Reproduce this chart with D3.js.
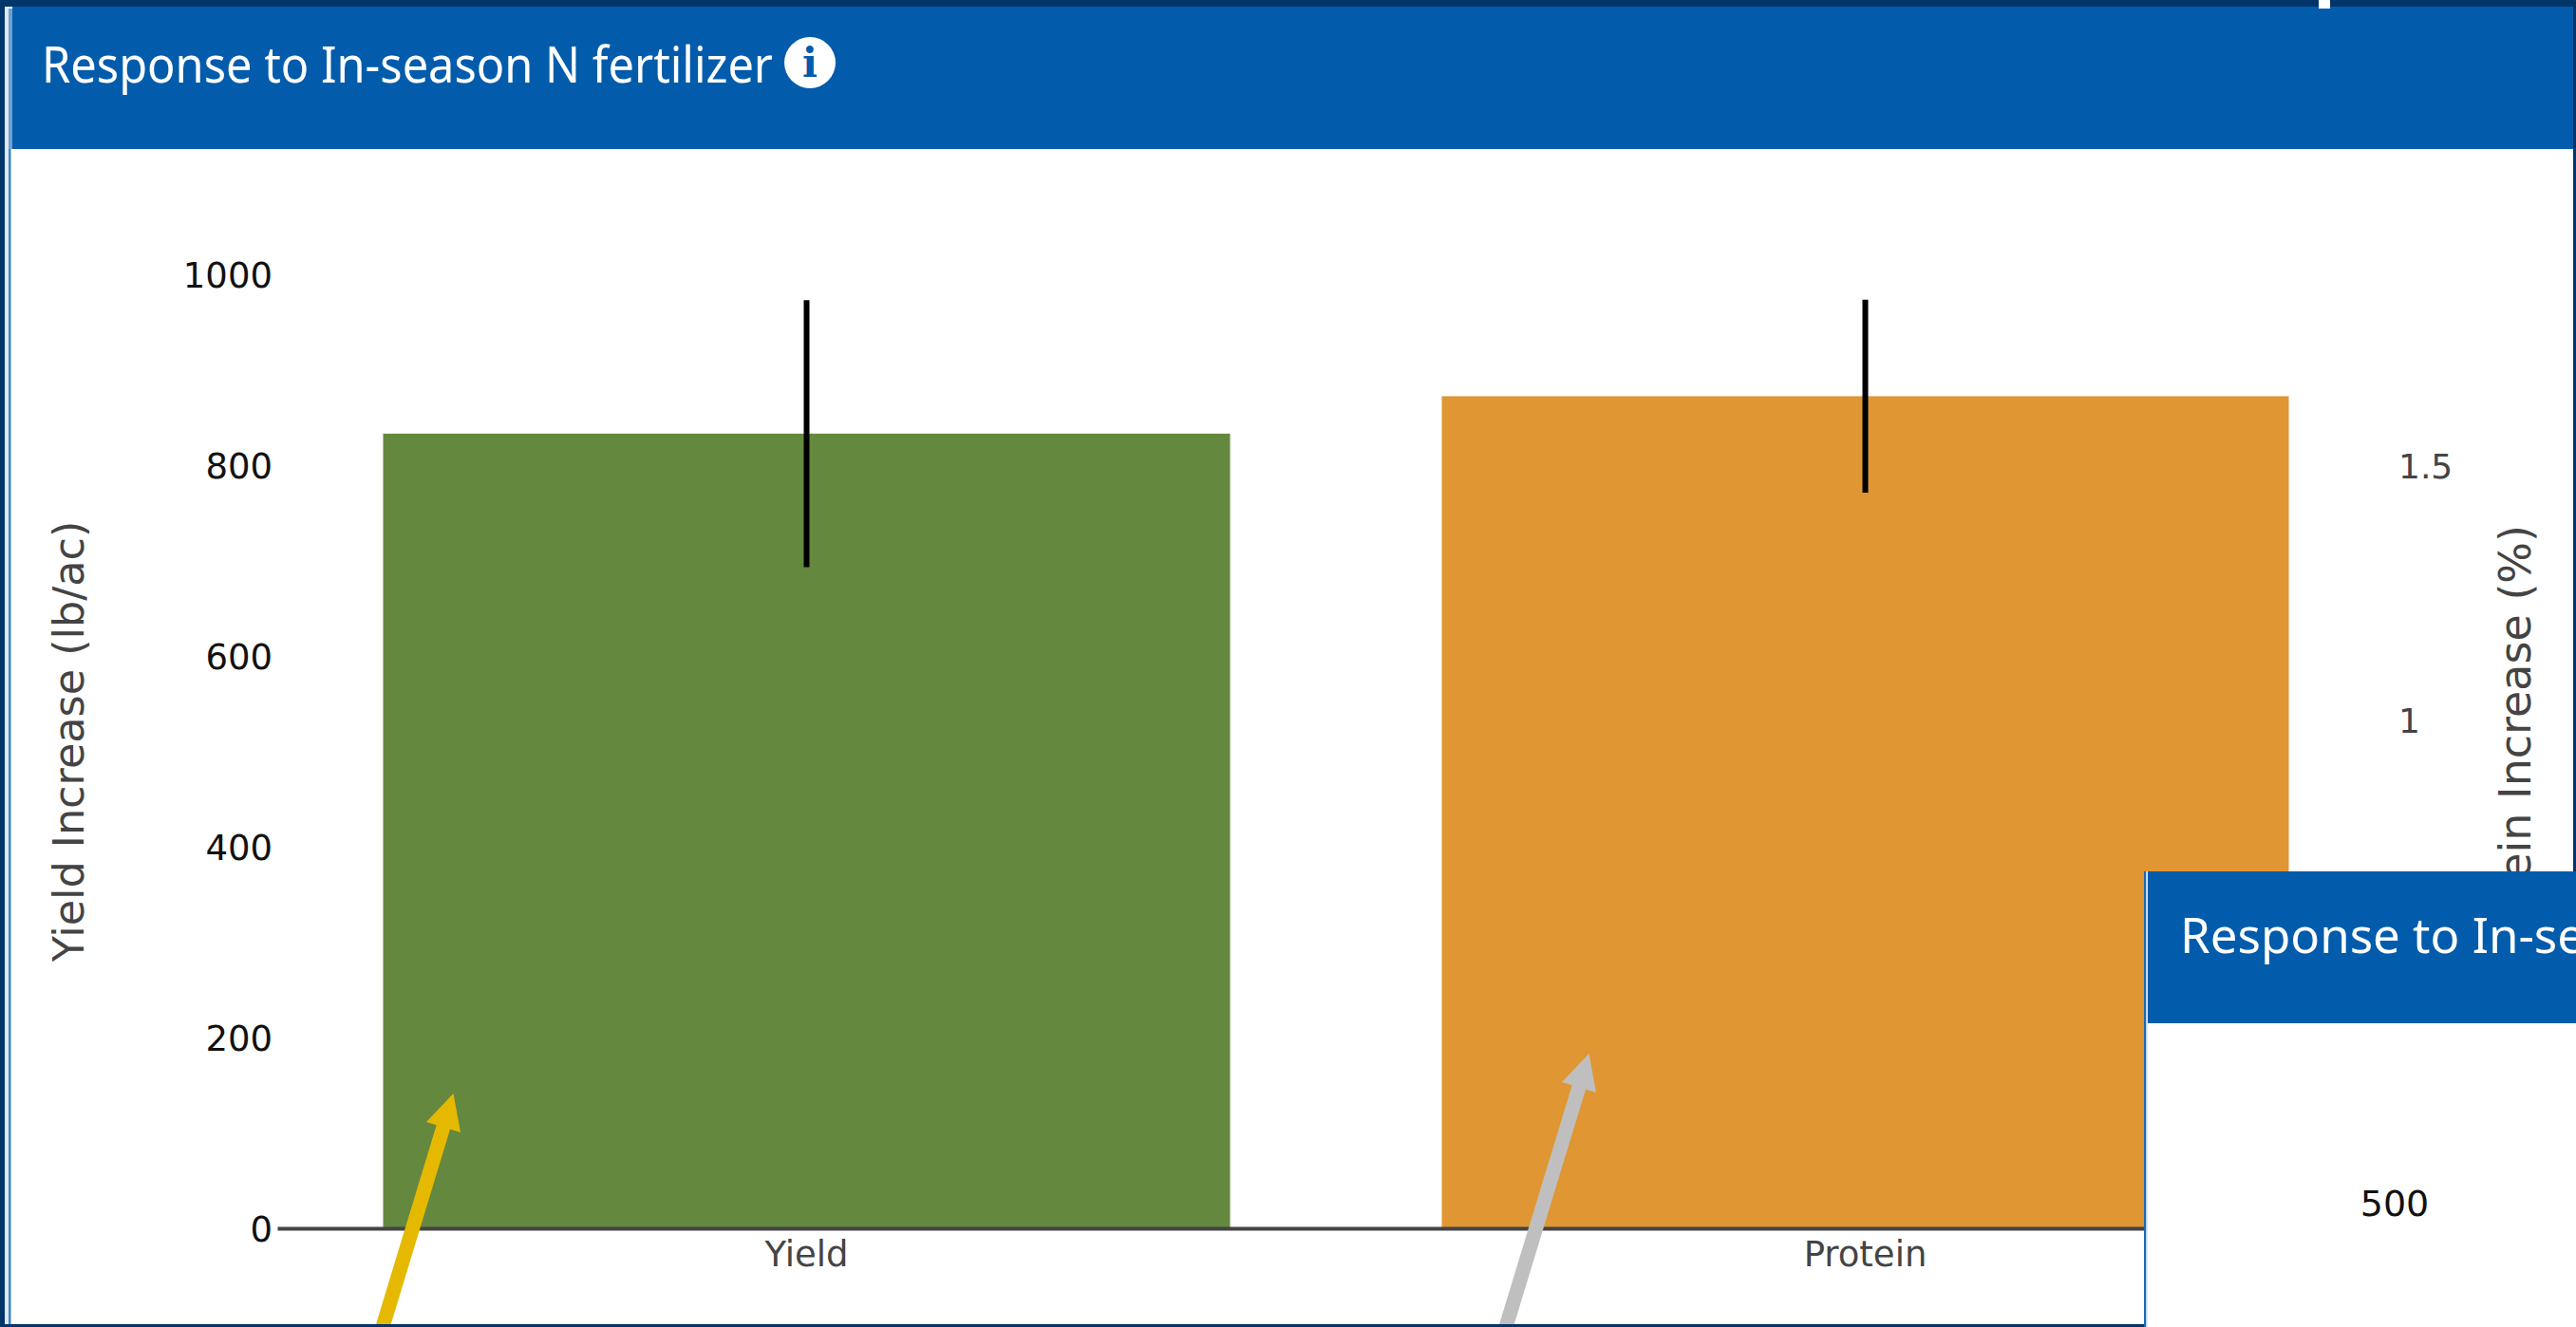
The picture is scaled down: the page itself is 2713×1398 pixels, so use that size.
<!DOCTYPE html>
<html>
<head>
<meta charset="utf-8">
<title>Response to In-season N fertilizer</title>
<script src="https://cdn.jsdelivr.net/npm/d3@7"></script>
<style>
  html, body { margin: 0; padding: 0; background: #fff; overflow: hidden; }
  svg { display: block; }
  .tick-left text { font-family: "DejaVu Sans", sans-serif; font-size: 37px; fill: #111; }
  .tick-right text { font-family: "DejaVu Sans", sans-serif; font-size: 36px; fill: #444; }
  .tick-x text { font-family: "DejaVu Sans", sans-serif; font-size: 37px; fill: #444; }
  .axis-title { font-family: "DejaVu Sans", sans-serif; font-size: 44.5px; fill: #444; }
  .panel-title { font-family: "Noto Sans", sans-serif; font-size: 52px; fill: #fff; }
</style>
</head>
<body>
<script>
// Measured response to in-season nitrogen
const categories = ["Yield", "Protein"];
const yieldValue = 833;
const yieldError = 140;
const proteinValue = 1.64;
const proteinError = 0.19;
const yieldTicks = [0, 200, 400, 600, 800, 1000];
const proteinTicks = [1, 1.5];
const titleText = "Response to In-season N fertilizer";
const yieldAxisTitle = "Yield Increase (lb/ac)";
const proteinAxisTitle = "Protein Increase (%)";
const insetTick = "500";

const W = 2713, H = 1398;
const NAVY = "#02366b", BLUE = "#025cab", GREEN = "#64883e", ORANGE = "#e09632";
const plot = { left: 292, right: 2522, top: 289, bottom: 1294 };

const svg = d3.select("body").append("svg").attr("width", W).attr("height", H);

svg.append("rect").attr("width", W).attr("height", H).attr("fill", "#fff");

const x = d3.scaleBand().domain(categories).range([plot.left, plot.right])
  .paddingInner(0.2).paddingOuter(0.1);
const yLeft = d3.scaleLinear().domain([0, 1000]).range([plot.bottom, plot.top]);
const yRight = d3.scaleLinear().domain([0, 1]).range([plot.bottom, 759.5]);

const rows = [
  { name: categories[0], value: yieldValue, error: yieldError, scale: yLeft, fill: GREEN },
  { name: categories[1], value: proteinValue, error: proteinError, scale: yRight, fill: ORANGE }
];

// Bars
svg.append("g").selectAll("rect").data(rows).join("rect")
  .attr("x", d => x(d.name))
  .attr("width", x.bandwidth())
  .attr("y", d => d.scale(d.value))
  .attr("height", d => plot.bottom - d.scale(d.value))
  .attr("fill", d => d.fill);

// Error bars, no caps
svg.append("g").selectAll("line").data(rows).join("line")
  .attr("x1", d => x(d.name) + x.bandwidth() / 2)
  .attr("x2", d => x(d.name) + x.bandwidth() / 2)
  .attr("y1", d => d.scale(d.value + d.error))
  .attr("y2", d => d.scale(d.value - d.error))
  .attr("stroke", "#000").attr("stroke-width", 6);

// Axes
const leftAxis = svg.append("g").attr("class", "tick-left")
  .attr("transform", `translate(${plot.left - 5},1.5)`)
  .call(d3.axisLeft(yLeft).tickValues(yieldTicks).tickSize(0).tickPadding(0).tickFormat(d3.format("d")));
leftAxis.select(".domain").remove();

const rightAxis = svg.append("g").attr("class", "tick-right")
  .attr("transform", "translate(2526,0)")
  .call(d3.axisRight(yRight).tickValues(proteinTicks).tickSize(0).tickPadding(0).tickFormat(d => String(d)));
rightAxis.select(".domain").remove();

const bottomAxis = svg.append("g").attr("class", "tick-x")
  .attr("transform", `translate(0,${plot.bottom})`)
  .call(d3.axisBottom(x).tickSize(0).tickPadding(14));
bottomAxis.select(".domain").attr("stroke", "#444").attr("stroke-width", 4);

svg.append("text").attr("class", "axis-title")
  .attr("text-anchor", "middle")
  .attr("transform", "translate(88,781) rotate(-90)")
  .text(yieldAxisTitle);
svg.append("text").attr("class", "axis-title")
  .attr("text-anchor", "end")
  .attr("transform", "translate(2665,553) rotate(-90)")
  .style("font-size", "46px")
  .text(proteinAxisTitle);

// Callout arrows pointing at the bars
const callouts = [
  { color: "#e5b900", tail: [403, H], tip: [477.5, 1152], wingA: [449, 1182], wingB: [485, 1193], neck: [467, 1187] },
  { color: "#bfbfbf", tail: [1586, H], tip: [1673.5, 1110], wingA: [1645, 1140], wingB: [1681, 1151], neck: [1663, 1145] }
];
const arrows = svg.append("g");
callouts.forEach(a => {
  arrows.append("line")
    .attr("x1", a.tail[0]).attr("y1", a.tail[1])
    .attr("x2", a.neck[0]).attr("y2", a.neck[1])
    .attr("stroke", a.color).attr("stroke-width", 15);
  arrows.append("path")
    .attr("d", d3.line()([a.tip, a.wingA, a.wingB]) + "Z")
    .attr("fill", a.color);
});

// Card header
svg.append("rect").attr("x", 13).attr("y", 7).attr("width", W - 13).attr("height", 150).attr("fill", BLUE);
svg.append("text").attr("class", "panel-title").attr("x", 44).attr("y", 87)
  .attr("textLength", 770).attr("lengthAdjust", "spacingAndGlyphs").text(titleText);
svg.append("circle").attr("cx", 853).attr("cy", 66).attr("r", 27).attr("fill", "#fff");
svg.append("text").attr("x", 853).attr("y", 81)
  .attr("text-anchor", "middle")
  .attr("font-family", "DejaVu Serif").attr("font-weight", "bold").attr("font-size", 42)
  .attr("fill", BLUE).text("i");

// Frame edges: navy rim, pale strip and a thin blue rule down the card's left side
svg.append("rect").attr("width", W).attr("height", 7).attr("fill", NAVY);
svg.append("rect").attr("x", 2442).attr("width", 12).attr("height", 9).attr("fill", "#fff");
svg.append("rect").attr("width", 5).attr("height", H).attr("fill", NAVY);
svg.append("rect").attr("x", 5).attr("y", 7).attr("width", 4).attr("height", H).attr("fill", "#dfe8f2");
svg.append("rect").attr("x", 9).attr("y", 157).attr("width", 2.5).attr("height", H).attr("fill", "#3f86c9");
svg.append("rect").attr("x", 9).attr("y", 9).attr("width", 4).attr("height", 148).attr("fill", "#6f9fd2");
svg.append("rect").attr("x", W - 3).attr("width", 3).attr("height", H).attr("fill", NAVY);
svg.append("rect").attr("y", H - 3).attr("width", W).attr("height", 3).attr("fill", NAVY);

// Second card stacked over the lower right corner
const inset = svg.append("g");
inset.append("rect").attr("x", 2258).attr("y", 918).attr("width", W - 2258).attr("height", H - 918).attr("fill", "#fff");
inset.append("rect").attr("x", 2262).attr("y", 918).attr("width", W - 2262).attr("height", 160).attr("fill", BLUE);
inset.append("rect").attr("x", 2258).attr("y", 918).attr("width", 2).attr("height", H - 918).attr("fill", "#1a6ab2");
inset.append("rect").attr("x", 2260).attr("y", 918).attr("width", 1.5).attr("height", H - 918).attr("fill", "#bcd4ea");
inset.append("text").attr("class", "panel-title").attr("x", 2296).attr("y", 1004)
  .style("font-size", "51px").text(titleText);
inset.append("text")
  .attr("x", 2522).attr("y", 1281)
  .attr("text-anchor", "middle")
  .attr("font-family", "DejaVu Sans").attr("font-size", 38).attr("fill", "#111")
  .text(insetTick);
</script>
</body>
</html>
